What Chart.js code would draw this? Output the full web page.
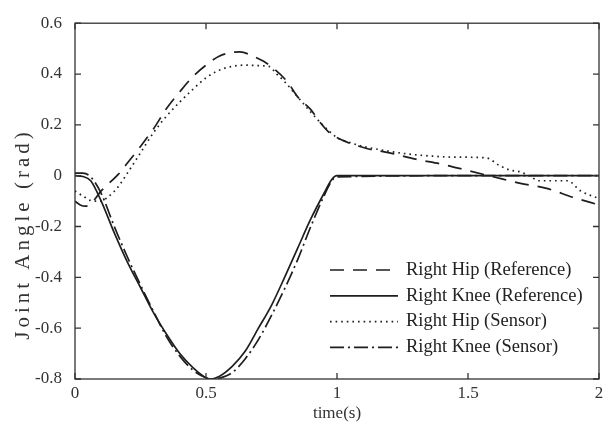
<!DOCTYPE html>
<html>
<head>
<meta charset="utf-8">
<script src="https://cdn.jsdelivr.net/npm/chart.js@4.4.1/dist/chart.umd.min.js"></script>
<style>
  html, body { margin: 0; padding: 0; background: #fff; }
  canvas { display: block; }
</style>
</head>
<body>
<canvas id="c" width="616" height="425"></canvas>
<script>
// ---- data ----
const seriesLabels = ['Right Hip (Reference)', 'Right Knee (Reference)', 'Right Hip (Sensor)', 'Right Knee (Sensor)'];

const tHipRef = [0, 0.02, 0.04, 0.065, 0.1, 0.13, 0.165, 0.2, 0.25, 0.3, 0.35, 0.4, 0.45, 0.5, 0.55, 0.6, 0.63, 0.68, 0.72, 0.76, 0.81, 0.85, 0.9, 0.935, 0.97, 1.02, 1.11, 1.2, 1.3, 1.4, 1.5, 1.6, 1.7, 1.8, 1.9, 2.0];
const hipRef = [-0.1, -0.115, -0.12, -0.105, -0.06, -0.03, 0.005, 0.05, 0.115, 0.185, 0.265, 0.33, 0.39, 0.435, 0.47, 0.485, 0.487, 0.47, 0.45, 0.42, 0.37, 0.31, 0.26, 0.21, 0.17, 0.14, 0.108, 0.09, 0.065, 0.045, 0.02, -0.005, -0.03, -0.05, -0.085, -0.115];

const tHipSensor = [0, 0.03, 0.07, 0.1, 0.13, 0.16, 0.2, 0.25, 0.3, 0.35, 0.4, 0.45, 0.5, 0.55, 0.6, 0.65, 0.7, 0.74, 0.77, 0.8, 0.85, 0.9, 0.95, 1.0, 1.05, 1.1, 1.15, 1.25, 1.35, 1.45, 1.57, 1.62, 1.66, 1.7, 1.74, 1.77, 1.88, 1.93, 2.0];
const hipSensor = [-0.06, -0.08, -0.1, -0.1, -0.08, -0.05, 0.01, 0.09, 0.17, 0.235, 0.29, 0.34, 0.385, 0.415, 0.43, 0.435, 0.433, 0.43, 0.4, 0.37, 0.31, 0.25, 0.195, 0.15, 0.13, 0.115, 0.105, 0.088, 0.078, 0.073, 0.07, 0.04, 0.022, 0.015, -0.004, -0.02, -0.02, -0.06, -0.09];

const tKnee = [0, 0.03, 0.06, 0.1, 0.15, 0.2, 0.25, 0.3, 0.35, 0.4, 0.45, 0.5, 0.52, 0.55, 0.6, 0.65, 0.7, 0.75, 0.8, 0.85, 0.9, 0.95, 0.98, 1.0, 1.5, 2.0];
const kneeRef = [0, -0.003, -0.02, -0.1, -0.225, -0.34, -0.44, -0.54, -0.625, -0.7, -0.755, -0.795, -0.8, -0.79, -0.75, -0.69, -0.6, -0.51, -0.4, -0.285, -0.17, -0.07, -0.015, 0, 0, 0];
const kneeSensor = [0.01, 0.01, -0.005, -0.07, -0.2, -0.32, -0.43, -0.535, -0.635, -0.71, -0.765, -0.795, -0.8, -0.797, -0.775, -0.72, -0.645, -0.55, -0.445, -0.33, -0.2, -0.08, -0.02, -0.005, 0, 0];

const xTicks = [0, 0.5, 1, 1.5, 2];
const yTicks = [-0.8, -0.6, -0.4, -0.2, 0, 0.2, 0.4, 0.6];
const xTitle = 'time(s)';
const yTitle = 'Joint Angle (rad)';

// ---- build chart ----
const pts = (ts, vs) => ts.map((t, i) => ({ x: t, y: vs[i] }));
const INK = '#1e1e1e';
const FONT = "'Liberation Serif', 'Times New Roman', serif";

const dashes = [[14, 9], [], [1.6, 4], [14, 4, 2, 4]];
const data = {
  datasets: [
    { label: seriesLabels[0], data: pts(tHipRef, hipRef), borderDash: dashes[0] },
    { label: seriesLabels[1], data: pts(tKnee, kneeRef), borderDash: dashes[1] },
    { label: seriesLabels[2], data: pts(tHipSensor, hipSensor), borderDash: dashes[2] },
    { label: seriesLabels[3], data: pts(tKnee, kneeSensor), borderDash: dashes[3] }
  ].map(d => Object.assign({
    borderColor: INK, borderWidth: 1.7, pointRadius: 0, fill: false,
    cubicInterpolationMode: 'monotone'
  }, d))
};

const framePlugin = {
  id: 'frame',
  afterDatasetsDraw(chart) {
    const { ctx, chartArea: a, scales: { x, y } } = chart;
    ctx.save();
    ctx.strokeStyle = '#333';
    ctx.lineWidth = 1.3;
    ctx.setLineDash([]);
    ctx.strokeRect(a.left, a.top, a.right - a.left, a.bottom - a.top);
    const L = 6;
    ctx.beginPath();
    x.ticks.forEach(t => {
      const px = x.getPixelForValue(t.value);
      ctx.moveTo(px, a.bottom); ctx.lineTo(px, a.bottom - L);
      ctx.moveTo(px, a.top); ctx.lineTo(px, a.top + L);
    });
    y.ticks.forEach(t => {
      const py = y.getPixelForValue(t.value);
      ctx.moveTo(a.left, py); ctx.lineTo(a.left + L, py);
      ctx.moveTo(a.right, py); ctx.lineTo(a.right - L, py);
    });
    ctx.stroke();
    ctx.restore();
  }
};

const yTitlePlugin = {
  id: 'yTitle',
  afterDraw(chart) {
    const { ctx } = chart;
    ctx.save();
    ctx.translate(23, 236);
    ctx.rotate(-Math.PI / 2);
    ctx.font = '21px ' + FONT;
    if ('letterSpacing' in ctx) ctx.letterSpacing = '4px';
    ctx.fillStyle = '#333';
    ctx.textAlign = 'center';
    ctx.textBaseline = 'middle';
    ctx.fillText(yTitle, 2, 0);
    ctx.restore();
  }
};

const legendPlugin = {
  id: 'innerLegend',
  afterDraw(chart) {
    const { ctx, chartArea: a } = chart;
    ctx.save();
    ctx.font = '18.5px ' + FONT;
    ctx.fillStyle = '#222';
    ctx.textBaseline = 'middle';
    ctx.textAlign = 'left';
    chart.data.datasets.forEach((ds, i) => {
      const yy = a.bottom - 109 + i * 25.8;
      ctx.strokeStyle = ds.borderColor;
      ctx.lineWidth = ds.borderWidth;
      ctx.setLineDash(ds.borderDash);
      ctx.beginPath();
      ctx.moveTo(a.right - 269, yy);
      ctx.lineTo(a.right - 201, yy);
      ctx.stroke();
      ctx.fillText(ds.label, a.right - 193, yy);
    });
    ctx.restore();
  }
};

new Chart(document.getElementById('c'), {
  type: 'line',
  data,
  options: {
    responsive: false,
    animation: false,
    devicePixelRatio: 1,
    layout: { padding: { left: 0, top: 15, right: 17, bottom: 0 } },
    plugins: { legend: { display: false }, tooltip: { enabled: false } },
    scales: {
      x: {
        type: 'linear', min: 0, max: 2,
        afterBuildTicks: s => { s.ticks = xTicks.map(v => ({ value: v })); },
        afterFit: s => { s.height = 46; },
        grid: { display: false, drawTicks: false },
        border: { display: false },
        ticks: { color: '#333', font: { family: FONT, size: 17 }, padding: 4,
                 callback: v => String(v) },
        title: { display: true, text: xTitle, color: '#333', font: { family: FONT, size: 17 },
                 padding: { top: 0, bottom: 1 } }
      },
      y: {
        type: 'linear', min: -0.8, max: 0.6,
        afterBuildTicks: s => { s.ticks = yTicks.map(v => ({ value: v })); },
        afterFit: s => { s.width = 75; },
        grid: { display: false, drawTicks: false },
        border: { display: false },
        ticks: { color: '#333', font: { family: FONT, size: 17 }, padding: 13,
                 callback: v => String(Number(v.toFixed(1))) },
        title: { display: false, text: yTitle }
      }
    }
  },
  plugins: [framePlugin, yTitlePlugin, legendPlugin]
});
</script>
</body>
</html>
